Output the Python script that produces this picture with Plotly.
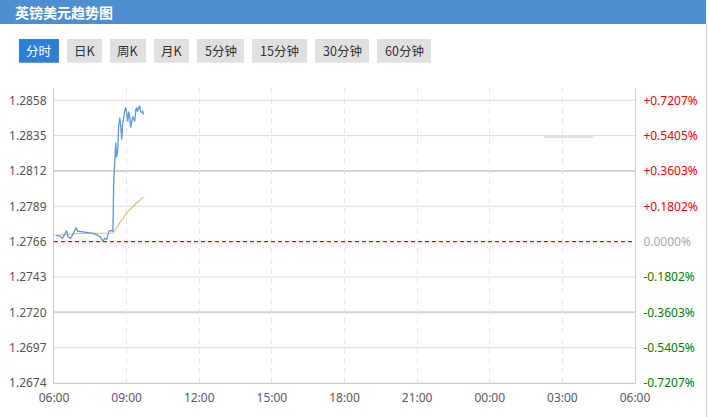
import pandas as pd
import plotly.graph_objects as go

# ---------------- data ----------------
base_day = "2024-01-01"
prev_close = 1.2766

price_times = ["06:04", "06:14", "06:21", "06:27", "06:31", "06:35", "06:41", "06:47", "06:54", "06:59",
               "07:12", "07:24", "07:37", "07:47", "07:55", "08:01", "08:06", "08:11", "08:16", "08:22",
               "08:26", "08:28", "08:30", "08:33", "08:35", "08:38", "08:40", "08:43", "08:45", "08:48",
               "08:50", "08:53", "08:55", "08:58", "09:00", "09:03", "09:05", "09:08", "09:10", "09:13",
               "09:15", "09:18", "09:20", "09:23", "09:25", "09:27", "09:30", "09:32", "09:35", "09:37",
               "09:40", "09:42"]
price_values = [1.27703, 1.27696, 1.27681, 1.27718, 1.27733, 1.27690, 1.27681, 1.27707, 1.27751, 1.27729,
                1.27725, 1.27718, 1.27714, 1.27703, 1.27690, 1.27664, 1.27681, 1.27675, 1.27729, 1.27733,
                1.27725, 1.28045, 1.28162, 1.28305, 1.28208, 1.28260, 1.28403, 1.28468, 1.28422, 1.28325,
                1.28422, 1.28487, 1.28507, 1.28533, 1.28487, 1.28442, 1.28507, 1.28468, 1.28403, 1.28442,
                1.28474, 1.28455, 1.28442, 1.28520, 1.28533, 1.28507, 1.28539, 1.28546, 1.28507, 1.28500,
                1.28507, 1.28487]

avg_times = ["06:04", "06:30", "06:54", "07:30", "08:26", "08:45", "09:03", "09:22", "09:42"]
avg_values = [1.27700, 1.27705, 1.27713, 1.27714, 1.27716, 1.27790, 1.27855, 1.27905, 1.27952]

y_ticks = [1.2674, 1.2697, 1.2720, 1.2743, 1.2766, 1.2789, 1.2812, 1.2835, 1.2858]
bold_grid = [1.2812, 1.2720]
x_start = "2024-01-01 06:00"
x_end = "2024-01-02 06:00"

buttons = ["分时", "日K", "周K", "月K", "5分钟", "15分钟", "30分钟", "60分钟"]
title_text = "英镑美元趋势图"

# ---------------- layout geometry ----------------
W, H = 708, 417
L, R, T, B = 54, 73, 88, 34
PW, PH = W - L - R, H - T - B


def px(x):
    return (x - L) / PW


def py(y):
    return (H - B - y) / PH


def to_dt(ts):
    return pd.to_datetime([f"{base_day} {t}" for t in ts])


FONT = "Noto Sans, Noto Sans CJK SC, sans-serif"

fig = go.Figure()
fig.add_trace(go.Scatter(x=to_dt(avg_times), y=avg_values, mode="lines",
                         line=dict(color="#ebb66f", width=1.1), hoverinfo="skip"))
fig.add_trace(go.Scatter(x=to_dt(price_times), y=price_values, mode="lines",
                         line=dict(color="#5c98dc", width=1.3), hoverinfo="skip"))

y_range = [1.2674, 1.2674 + (1.2858 - 1.2674) * PH / (H - B - 100.3)]


def pct_label(v):
    p = (v - prev_close) / prev_close * 100
    if abs(p) < 1e-9:
        return "<span style='color:#aaaaaa'>0.0000%</span>"
    if p > 0:
        return f"<span style='color:#ff0000'>+{p:.4f}%</span>"
    return f"<span style='color:#008000'>{p:.4f}%</span>"


fig.update_layout(
    width=W, height=H,
    margin=dict(l=L, r=R, t=T, b=B, pad=0, autoexpand=False),
    paper_bgcolor="white", plot_bgcolor="white",
    showlegend=False,
    font=dict(family=FONT, size=12, color="#555555"),
    xaxis=dict(type="date", range=[x_start, x_end], tick0=x_start, dtick=3 * 3600 * 1000,
               tickformat="%H:%M", showgrid=True, gridcolor="#e6e6e6", griddash="6px,4px",
               gridwidth=1, showline=True, linecolor="#cccccc", linewidth=1, ticks="",
               ticklabelstandoff=4, automargin=False,
               zeroline=False, tickfont=dict(size=12, color="#555a66")),
    yaxis=dict(range=y_range, tickvals=y_ticks, ticktext=[f"{v:.4f}" for v in y_ticks],
               showgrid=False, showline=True,
               linecolor="#cccccc", linewidth=1, ticks="", zeroline=False,
               ticklabelstandoff=4, automargin=False,
               tickfont=dict(size=12, color="#555555")),
    yaxis2=dict(range=y_range, overlaying="y", side="right", tickvals=y_ticks,
                ticktext=[pct_label(v) for v in y_ticks], showgrid=False, showline=True,
                linecolor="#cccccc", linewidth=1, ticks="", zeroline=False,
                ticklabelstandoff=5, automargin=False,
                tickfont=dict(size=12)),
)

# dummy trace to activate right axis
fig.add_trace(go.Scatter(x=[x_start], y=[prev_close], yaxis="y2", mode="markers",
                         marker=dict(opacity=0), hoverinfo="skip"))

shapes = []
# horizontal grid lines (thicker at the +/-0.36% levels, none under the previous close)
for v in y_ticks:
    if v == prev_close:
        continue
    thick = v in bold_grid
    shapes.append(dict(type="line", xref="paper", yref="y", x0=0, x1=1, y0=v, y1=v,
                       line=dict(color="#d4d4d4" if thick else "#dcdcdc", width=2 if thick else 1),
                       layer="below"))
# previous close
shapes.append(dict(type="line", xref="paper", yref="y", x0=0, x1=1, y0=prev_close, y1=prev_close,
                   line=dict(color="#ff0000", width=1.2, dash="4px,3px")))
# faint watermark line
shapes.append(dict(type="line", xref="paper", yref="paper", x0=px(544), x1=px(593), y0=py(137), y1=py(137),
                   line=dict(color="#d8d8d8", width=1.5), layer="below"))
# header bar
shapes.append(dict(type="rect", xref="paper", yref="paper", x0=px(0), x1=px(706), y0=py(0), y1=py(24),
                   fillcolor="#4e8fd0", line=dict(width=0), layer="below"))
# right border
shapes.append(dict(type="line", xref="paper", yref="paper", x0=px(706.5), x1=px(706.5), y0=py(24), y1=py(417),
                   line=dict(color="#dddddd", width=1.5), layer="below"))

btn_x = [(19, 59), (67, 102), (110, 146), (154, 189), (197, 244), (252, 307), (315, 369), (377, 431)]
annotations = [dict(text=f"<b>{title_text}</b>", xref="paper", yref="paper", x=px(13), y=py(12),
                    xanchor="left", yanchor="middle", showarrow=False,
                    font=dict(family="Noto Sans CJK SC", size=14, color="white"))]
for i, (lbl, (x0, x1)) in enumerate(zip(buttons, btn_x)):
    active = i == 0
    shapes.append(dict(type="rect", xref="paper", yref="paper", x0=px(x0), x1=px(x1), y0=py(39), y1=py(62.7),
                       fillcolor="#2f7fd6" if active else "#e0e0e0", line=dict(width=0), layer="below"))
    annotations.append(dict(text=lbl, xref="paper", yref="paper", x=px((x0 + x1) / 2), y=py(51),
                            xanchor="center", yanchor="middle", showarrow=False,
                            font=dict(family="Noto Sans CJK SC", size=12.5,
                                      color="white" if active else "#333333")))

fig.update_layout(shapes=shapes, annotations=annotations)
fig.write_html("out.html")
